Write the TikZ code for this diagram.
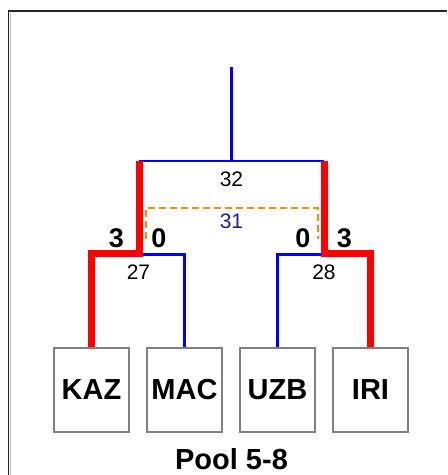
\documentclass[tikz,border=0pt]{standalone}
\usepackage{fontspec}
\setmainfont{Liberation Sans}
\definecolor{thirdorange}{RGB}{255,140,0}
\begin{document}
\begin{tikzpicture}[x=1pt,y=-1pt,
  team/.style={draw=black!50,line width=2pt,minimum width=75pt,minimum height=84pt,inner sep=0pt,font=\fontsize{29}{32}\selectfont\bfseries,text=black},
  num/.style={inner sep=0pt,font=\fontsize{21}{23}\selectfont,text=black},
  score/.style={inner sep=0pt,font=\fontsize{27}{29}\selectfont\bfseries,text=black},
  loser/.style={draw=blue,line width=2.7pt},
  winner/.style={draw=red,line width=7pt},
  third/.style={draw=thirdorange,line width=2.7pt,dash pattern=on 7pt off 4pt}]
\useasboundingbox (0,0) rectangle (448,475);
\fill[white] (0,0) rectangle (448,475);
% frame
\draw[black!85,line width=1.8pt] (8.5,475) -- (8.5,11) -- (447,11);
\draw[black!25,line width=1pt] (10.5,475) -- (10.5,12.5);
% teams
\node[team] (kaz) at (91.5,390) {KAZ};
\node[team] (mac) at (184.5,390) {MAC};
\node[team] (uzb) at (277.5,390) {UZB};
\node[team] (iri) at (370.5,390) {IRI};
% junction coordinates
\coordinate (top) at (231.5,67);
\coordinate (fL) at (139,161);
\coordinate (fR) at (324,161);
\coordinate (fM) at (231.5,161);
\coordinate (sL) at (139,254.5);
\coordinate (sR) at (324,254.5);
% final
\draw[loser] (top) -- (fM);
\draw[loser] (fL) -- (fR);
% semis losers
\draw[loser] (sL) -- (mac.north |- sL) -- (mac.north);
\draw[loser] (sR) -- (uzb.north |- sR) -- (uzb.north);
% third place dashed
\coordinate (tL) at (146,239);
\coordinate (tR) at (318,239);
\draw[third] (tL) -- (146,208) -- (318,208) -- (tR);
% winners
\draw[winner] (kaz.north) -- (kaz.north |- 0,253) -- (139,253) -- (fL);
\draw[winner] (iri.north) -- (iri.north |- 0,253) -- (324,253) -- (fR);
% labels
\node[num] (m32) at (231.5,179.5) {32};
\node[num,text={rgb,255:red,30;green,30;blue,150}] (m31) at (231.5,221.5) {31};
\node[num] (m27) at (138.5,272) {27};
\node[num] (m28) at (324,272) {28};
\node[score] (s1) at (116.5,238) {3};
\node[score] (s2) at (159,238) {0};
\node[score] (s3) at (303,238) {0};
\node[score] (s4) at (344.5,238) {3};
\node[inner sep=0pt,font=\fontsize{29}{32}\selectfont\bfseries] (pool) at (231.5,459) {Pool 5-8};
\end{tikzpicture}
\end{document}
